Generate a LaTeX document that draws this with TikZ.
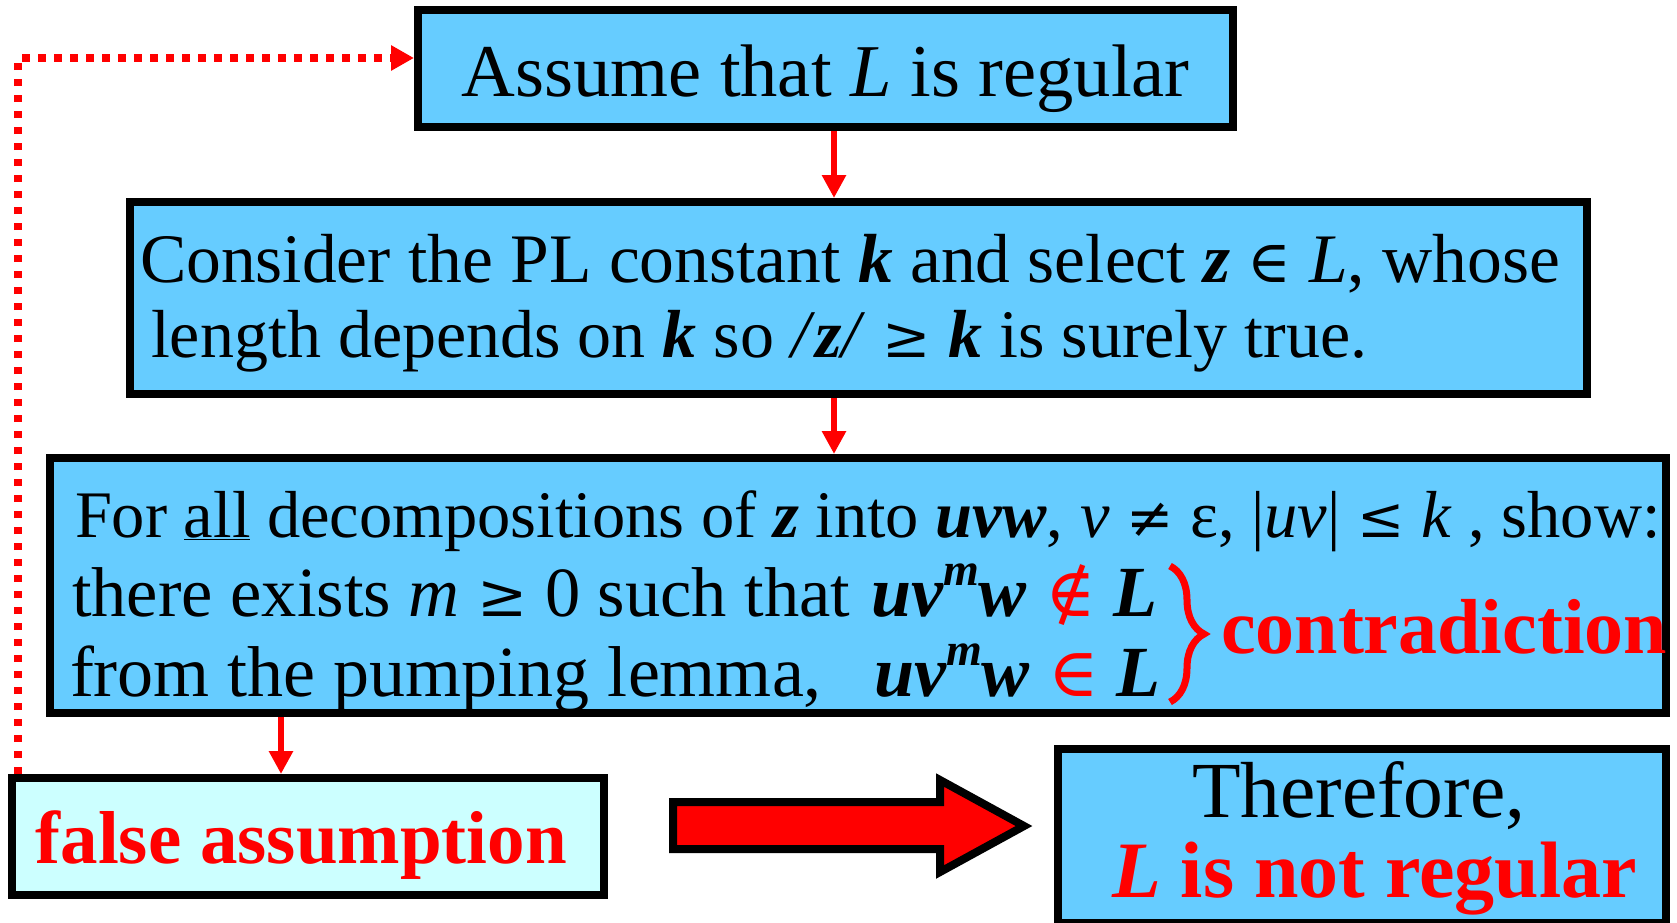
\documentclass[tikz,border=0pt]{standalone}
\usepackage{fontspec}
\setmainfont{Liberation Serif}
\newfontfamily\symf[Scale=0.85]{DejaVu Serif}
\newfontfamily\symg[Scale=0.95]{DejaVu Serif}
\usetikzlibrary{arrows.meta,decorations.pathreplacing}
\definecolor{boxblue}{RGB}{102,204,255}
\definecolor{paleblue}{RGB}{204,255,255}
\newcommand\mybi[1]{\textbf{\textit{#1}}}
\newcommand\fsz[1]{\fontsize{#1}{#1}\selectfont}
\newcommand\sy[1]{{\symf\mdseries\upshape #1}}
\newcommand\syb[1]{{\symg\mdseries\upshape #1}}
\newcommand\supm{\raisebox{0.42em}{\fontsize{46}{46}\selectfont m}}
\tikzset{
  box/.style={draw=black, line width=8pt, fill=boxblue, inner sep=0pt, outer sep=4pt},
  txt/.style={inner sep=0pt, outer sep=0pt, anchor=base west},
  redarr/.style={draw=red, line width=6pt, -{Triangle[length=23pt,width=23pt]}},
  dotarr/.style={draw=red, line width=7.5pt, dash pattern=on 7.5pt off 8.5pt, -{Triangle[length=23pt,width=24pt]}},
}
\begin{document}
\begin{tikzpicture}[x=1pt,y=-1pt]
\useasboundingbox (0,0) rectangle (1677,922);
% boxes
\node[box, minimum width=815pt, minimum height=117pt] (b1) at (825.5,68.5) {};
\node[box, minimum width=1457pt, minimum height=192pt] (b2) at (858.5,298) {};
\node[box, minimum width=1616pt, minimum height=255pt] (b3) at (858,585.5) {};
\node[box, fill=paleblue, minimum width=592pt, minimum height=117pt] (b4) at (308,836.5) {};
\node[box, minimum width=608pt, minimum height=174pt] (b5) at (1362,836) {};
% connectors
\coordinate (ax) at (834,0);
\coordinate (bx) at (281,0);
\coordinate (dc) at (18,58);
\draw[redarr] (b1.south -| ax) -- (b2.north -| ax);
\draw[redarr] (b2.south -| ax) -- (b3.north -| ax);
\draw[redarr] (b3.south -| bx) -- (b4.north -| bx);
\draw[dotarr] (b4.north -| dc) -- (dc) -- (b1.west |- dc);
% big arrow
\draw[black, line width=8pt, fill=red, line join=miter] (673,802) -- (940,802) -- (940,780) -- (1024,826) -- (940,872) -- (940,849) -- (673,849) -- cycle;
% texts
\node[txt, anchor=base, font=\fsz{74.5}] (t1) at (825.5,96) {Assume that \textit{L} is regular};
\node[txt, font=\fsz{69.5}] (t2a) at (140,282) {Consider the PL constant \mybi{k} and select \mybi{z} \sy{∈} \textit{L}, whose};
\node[txt, font=\fsz{68}] (t2b) at (151,357) {length depends on \mybi{k} so \textit{/}\mybi{z}\textit{/} \sy{≥} \mybi{k} is surely true.};
\node[txt, font=\fsz{66.5}] (t3a) at (75,537) {For \underline{all} decompositions of \mybi{z} into \mybi{uvw}, \textit{v} \sy{≠} ε, |\textit{uv}| \sy{≤} \textit{k} , show:};
\node[txt, font=\fsz{70.5}] (t3b) at (72,616) {there exists \textit{m} \sy{≥} 0 such that};
\node[txt, font=\fsz{72}] (t3c) at (70,696) {from the pumping lemma,};
\node[txt, font=\fsz{72}] (f2) at (871,616) {\mybi{uv\supm w} \textcolor{red}{\syb{∉}} \mybi{L}};
\node[txt, font=\fsz{72}] (f3) at (874,696) {\mybi{uv\supm w} \textcolor{red}{\syb{∈}} \mybi{L}};
\draw[red, line width=7pt, decorate, decoration={brace, amplitude=34pt, aspect=0.5}] (1170,566) -- (1170,702);
\node[txt, font=\fsz{78}\bfseries, text=red] (con) at (1221,653) {contradiction};
\node[txt, font=\fsz{75}\bfseries, text=red] (t4) at (35.6,863) {false assumption};
\node[txt, font=\fsz{79.5}] (t5a) at (1192,817) {Therefore,};
\node[txt, font=\fsz{80}\bfseries, text=red] (t5b) at (1112,897) {\textit{L} is not regular};
\end{tikzpicture}
\end{document}
